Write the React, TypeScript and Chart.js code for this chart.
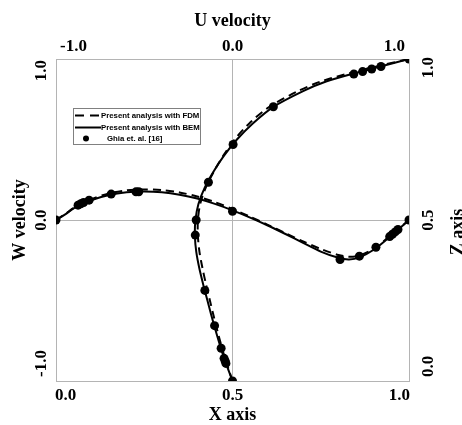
import { useEffect, useRef } from 'react';
import { Chart, registerables } from 'chart.js';
Chart.register(...registerables);

// Vertical centerline: U velocity vs Z
const zCurve = [0, 0.025, 0.05, 0.075, 0.1, 0.15, 0.2, 0.25, 0.3, 0.35, 0.4, 0.45, 0.5, 0.55, 0.6, 0.65, 0.7, 0.75, 0.8, 0.85, 0.9, 0.93, 0.96, 0.98, 1.0];
const uFDM = [0, -0.015, -0.03, -0.045, -0.058, -0.083, -0.106, -0.128, -0.15, -0.17, -0.187, -0.196, -0.196, -0.183, -0.152, -0.106, -0.052, 0.012, 0.095, 0.205, 0.37, 0.5, 0.69, 0.84, 1.0];
const uBEM = [0, -0.017, -0.034, -0.05, -0.065, -0.092, -0.118, -0.142, -0.166, -0.188, -0.205, -0.213, -0.21, -0.193, -0.158, -0.108, -0.048, 0.025, 0.115, 0.228, 0.4, 0.53, 0.72, 0.86, 1.0];

// Horizontal centerline: W velocity vs X
const xCurve = [0, 0.025, 0.05, 0.075, 0.1, 0.15, 0.2, 0.25, 0.3, 0.35, 0.4, 0.45, 0.5, 0.55, 0.6, 0.65, 0.7, 0.75, 0.8, 0.83, 0.86, 0.9, 0.94, 0.97, 1.0];
const wFDM = [0, 0.035, 0.075, 0.105, 0.13, 0.165, 0.184, 0.19, 0.186, 0.171, 0.146, 0.111, 0.068, 0.02, -0.03, -0.082, -0.133, -0.18, -0.217, -0.228, -0.22, -0.178, -0.11, -0.055, 0];
const wBEM = [0, 0.033, 0.072, 0.1, 0.123, 0.155, 0.172, 0.177, 0.172, 0.157, 0.133, 0.1, 0.06, 0.015, -0.034, -0.087, -0.142, -0.196, -0.235, -0.245, -0.232, -0.185, -0.115, -0.058, 0];

// Ghia et al. reference points
const ghiaZ = [1.0, 0.9766, 0.9688, 0.9609, 0.9531, 0.8516, 0.7344, 0.6172, 0.5, 0.4531, 0.2813, 0.1719, 0.1016, 0.0703, 0.0625, 0.0547, 0];
const ghiaU = [1.0, 0.84123, 0.78871, 0.73722, 0.68717, 0.23151, 0.00332, -0.13641, -0.20581, -0.2109, -0.15662, -0.1015, -0.06434, -0.04775, -0.04192, -0.03717, 0];
const ghiaX = [1.0, 0.9688, 0.9609, 0.9531, 0.9453, 0.9063, 0.8594, 0.8047, 0.5, 0.2344, 0.2266, 0.1563, 0.0938, 0.0781, 0.0703, 0.0625, 0];
const ghiaW = [0, -0.05906, -0.07391, -0.08864, -0.10313, -0.16914, -0.22445, -0.24533, 0.05454, 0.17527, 0.17507, 0.16077, 0.12317, 0.1089, 0.10091, 0.09233, 0];

// Axis ticks
const xAxisTicks = [0, 0.5, 1.0];
const uAxisTicks = [-1.0, 0, 1.0];
const wAxisTicks = [-1.0, 0, 1.0];
const zAxisTicks = [0, 0.5, 1.0];

const titles = { top: 'U velocity', bottom: 'X axis', left: 'W velocity', right: 'Z axis' };
const legendLabels = ['Present analysis with FDM', 'Present analysis with BEM', 'Ghia et. al. [16]'];

const pts = (xs: number[], ys: number[]) => xs.map((x, i) => ({ x, y: ys[i] }));

const TICK_FONT = 'bold 17px "Liberation Serif", "Times New Roman", serif';
const TITLE_FONT = 'bold 18px "Liberation Serif", "Times New Roman", serif';
const LEGEND_FONT = 'bold 7.8px "Liberation Sans", Arial, sans-serif';

const annotPlugin = {
  id: 'annot',
  afterDraw(chart: any) {
    const ctx = chart.ctx as CanvasRenderingContext2D;
    const s = chart.scales;
    const ca = chart.chartArea;
    ctx.save();
    ctx.fillStyle = '#000';
    ctx.font = TICK_FONT;
    ctx.textBaseline = 'middle';
    const fmt = (v: number) => v.toFixed(1);

    // bottom X axis ticks
    xAxisTicks.forEach((v, i) => {
      const px = s.x.getPixelForValue(v);
      const last = i === xAxisTicks.length - 1;
      ctx.textAlign = i === 0 ? 'left' : last ? 'right' : 'center';
      ctx.fillText(fmt(v), px + (i === 0 ? -1 : last ? 1 : 0), ca.bottom + 15);
    });
    // top U ticks
    uAxisTicks.forEach((v, i) => {
      const px = s.xU.getPixelForValue(v);
      const last = i === uAxisTicks.length - 1;
      ctx.textAlign = i === 0 ? 'left' : last ? 'right' : 'center';
      ctx.fillText(fmt(v), px + (i === 0 ? 4 : last ? -4 : 0), ca.top - 12);
    });
    // left W ticks (rotated)
    const rotTick = (scale: any, ticks: number[], x: number, topOff: number, botOff: number) => {
      ticks.forEach((v, i) => {
        const py = scale.getPixelForValue(v);
        const last = i === ticks.length - 1;
        ctx.save();
        const yy = i === 0 ? py - botOff : last ? py + topOff : py;
        ctx.translate(x, yy);
        ctx.rotate(-Math.PI / 2);
        ctx.textAlign = i === 0 ? 'left' : last ? 'right' : 'center';
        ctx.fillText(fmt(v), 0, 0);
        ctx.restore();
      });
    };
    rotTick(s.y, wAxisTicks, ca.left - 14, 1, 4);
    rotTick(s.yZ, zAxisTicks, ca.right + 20, -2, 4);

    // titles
    ctx.font = TITLE_FONT;
    ctx.textAlign = 'center';
    ctx.fillText(titles.top, (ca.left + ca.right) / 2, 21);
    ctx.fillText(titles.bottom, (ca.left + ca.right) / 2, ca.bottom + 34);
    ctx.save();
    ctx.translate(20, (ca.top + ca.bottom) / 2);
    ctx.rotate(-Math.PI / 2);
    ctx.fillText(titles.left, 0, 0);
    ctx.restore();
    ctx.save();
    ctx.translate(458, (ca.top + ca.bottom) / 2 + 12);
    ctx.rotate(-Math.PI / 2);
    ctx.fillText(titles.right, 0, 0);
    ctx.restore();

    // legend
    const lx = 73.5, ly = 108.5, lw = 127, lh = 36;
    ctx.fillStyle = '#fff';
    ctx.fillRect(lx, ly, lw, lh);
    ctx.strokeStyle = '#808080';
    ctx.lineWidth = 1;
    ctx.strokeRect(lx, ly, lw, lh);
    ctx.strokeStyle = '#000';
    ctx.lineWidth = 2;
    const rows = [115.5, 127.5, 138.5];
    ctx.setLineDash([9, 6]);
    ctx.beginPath();
    ctx.moveTo(75, rows[0]);
    ctx.lineTo(101, rows[0]);
    ctx.stroke();
    ctx.setLineDash([]);
    ctx.beginPath();
    ctx.moveTo(75, rows[1]);
    ctx.lineTo(101, rows[1]);
    ctx.stroke();
    ctx.fillStyle = '#000';
    ctx.beginPath();
    ctx.arc(86, rows[2], 3, 0, Math.PI * 2);
    ctx.fill();
    ctx.font = LEGEND_FONT;
    ctx.textAlign = 'left';
    ctx.fillText(legendLabels[0], 101, rows[0]);
    ctx.fillText(legendLabels[1], 101, rows[1]);
    ctx.fillText(legendLabels[2], 107, rows[2]);
    ctx.restore();
  },
};

export default function App() {
  const ref = useRef<HTMLCanvasElement>(null);
  useEffect(() => {
    document.body.style.margin = '0';
    if (!ref.current) return;
    const GRID = '#b4b4b4';
    const lineBase = { showLine: true, pointRadius: 0, borderColor: '#000', borderWidth: 2, fill: false, tension: 0.3 };
    const chart = new Chart(ref.current, {
      type: 'scatter',
      data: {
        datasets: [
          { ...lineBase, label: legendLabels[0], data: pts(uFDM, zCurve), xAxisID: 'xU', yAxisID: 'yZ', borderDash: [8, 5] },
          { ...lineBase, label: legendLabels[1], data: pts(uBEM, zCurve), xAxisID: 'xU', yAxisID: 'yZ' },
          { ...lineBase, label: legendLabels[0], data: pts(xCurve, wFDM), xAxisID: 'x', yAxisID: 'y', borderDash: [8, 5] },
          { ...lineBase, label: legendLabels[1], data: pts(xCurve, wBEM), xAxisID: 'x', yAxisID: 'y' },
          { label: legendLabels[2], data: pts(ghiaU, ghiaZ), xAxisID: 'xU', yAxisID: 'yZ', pointRadius: 4.5, backgroundColor: '#000', borderColor: '#000', borderWidth: 0 },
          { label: legendLabels[2], data: pts(ghiaX, ghiaW), xAxisID: 'x', yAxisID: 'y', pointRadius: 4.5, backgroundColor: '#000', borderColor: '#000', borderWidth: 0 },
        ] as any,
      },
      options: {
        responsive: false,
        devicePixelRatio: 1,
        animation: false,
        layout: { padding: { left: 56, right: 53, top: 59, bottom: 44 } },
        plugins: { legend: { display: false }, tooltip: { enabled: false } },
        scales: {
          x: {
            type: 'linear', position: 'bottom', min: 0, max: 1,
            ticks: { display: false, stepSize: 0.5 },
            grid: { color: GRID, drawTicks: false, lineWidth: 1 },
            border: { display: true, color: GRID },
          },
          xU: {
            type: 'linear', position: 'top', min: -1, max: 1,
            ticks: { display: false, stepSize: 1 },
            grid: { display: false, drawTicks: false },
            border: { display: true, color: GRID },
          },
          y: {
            type: 'linear', position: 'left', min: -1, max: 1,
            ticks: { display: false, stepSize: 1 },
            grid: { color: GRID, drawTicks: false, lineWidth: 1 },
            border: { display: true, color: GRID },
          },
          yZ: {
            type: 'linear', position: 'right', min: 0, max: 1,
            ticks: { display: false, stepSize: 0.5 },
            grid: { display: false, drawTicks: false },
            border: { display: true, color: GRID },
          },
        },
      },
      plugins: [annotPlugin],
    });
    return () => chart.destroy();
  }, []);
  return <canvas ref={ref} width={462} height={425} style={{ display: 'block', width: 462, height: 425 }} />;
}
